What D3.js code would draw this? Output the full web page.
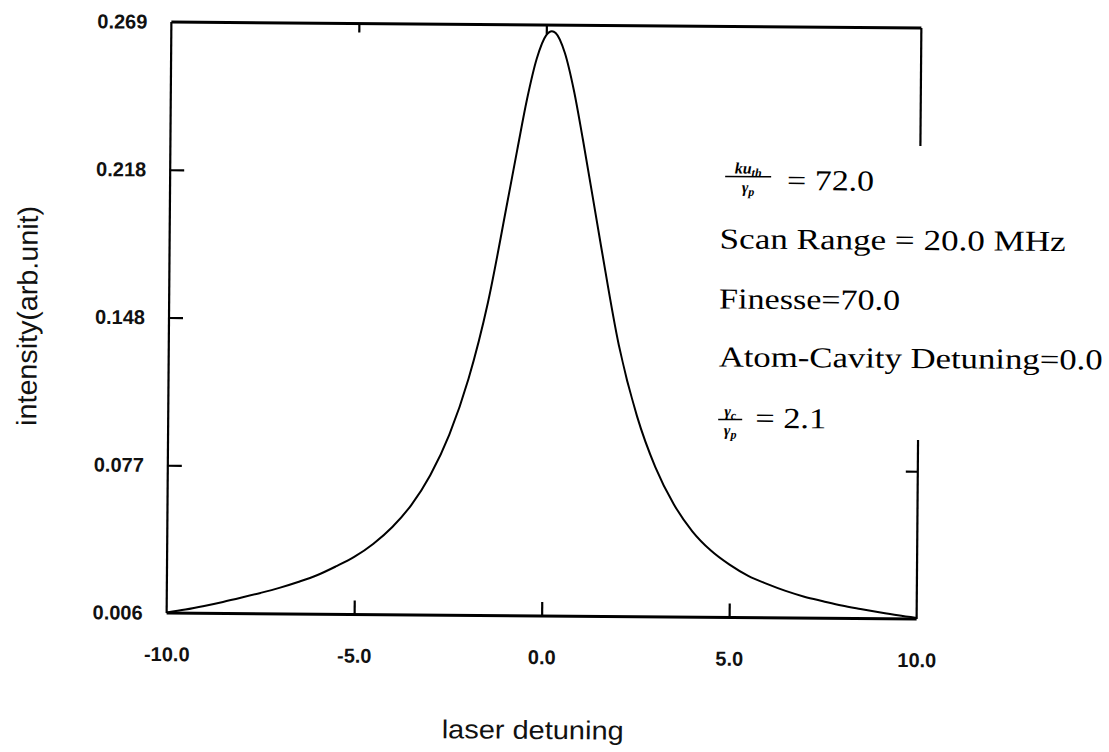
<!DOCTYPE html>
<html>
<head>
<meta charset="utf-8">
<script src="https://cdn.jsdelivr.net/npm/d3@7"></script>
<style>
  body { margin: 0; background: #fff; }
  .tick text { font-family: "Liberation Sans", Arial, sans-serif; font-size: 20px; font-weight: bold; fill: #111; }
  .tick line { stroke: #000; stroke-width: 2.2; }
  .note { font-family: "Liberation Serif", "DejaVu Serif", serif; fill: #000; }
</style>
</head>
<body>
<div class="chart"></div>
<script>

// values
const detuning = [-10, -9.5, -9, -8.5, -8, -7.5, -7, -6.5, -6, -5.5, -5, -4.5, -4, -3.5, -3, -2.5, -2, -1.5, -1, -0.75, -0.5, -0.25, 0, 0.15, 0.25, 0.5, 0.75, 1, 1.5, 2, 2.5, 3, 3.5, 4, 4.5, 5, 5.5, 6, 6.5, 7, 7.5, 8, 8.5, 9, 9.5, 10]
const intensity = [0.0062, 0.0077, 0.0095, 0.0115, 0.0137, 0.0160, 0.0185, 0.0214, 0.0247, 0.0290, 0.0338, 0.0401, 0.0482, 0.0588, 0.0732, 0.0928, 0.1197, 0.1562, 0.2041, 0.2258, 0.2433, 0.2573, 0.2655, 0.2669, 0.2663, 0.2594, 0.2464, 0.2295, 0.1840, 0.1365, 0.1024, 0.0780, 0.0602, 0.0473, 0.0381, 0.0314, 0.0261, 0.0223, 0.0190, 0.0163, 0.0142, 0.0122, 0.0106, 0.0091, 0.0077, 0.0065]

const xTicks = [-10, -5, 0, 5, 10]
const xTickLabels = ["-10.0", "-5.0", "0.0", "5.0", "10.0"]
const yTicks = [0.006, 0.077, 0.148, 0.218, 0.269]
const yTickLabels = ["0.006", "0.077", "0.148", "0.218", "0.269"]

const data = detuning.map((d, i) => ({ x: d, y: intensity[i] }))

const margin = ({ top: 25, right: 190, bottom: 136, left: 169 })
const width = 1109 - margin.left - margin.right,
    height = 752 - margin.top - margin.bottom;

let root = d3.select(".chart").append("svg")
    .attr("width", 1109)
    .attr("height", 752)
    .append("g")
    .attr("transform", "rotate(0.46, 544, 320)");   // the scan is slightly tilted

let svg = root.append("g")
    .attr("transform", "translate(" + margin.left + "," + margin.top + ")");

let xScale = d3.scaleLinear()
    .domain([-10, 10])
    .range([0, width])

// tick labels are evenly spaced on the page but not in value
let yScale = d3.scaleLinear()
    .domain(yTicks)
    .range([height, height * 0.75, height * 0.5, height * 0.25, 0])

let xAxis = d3.axisBottom(xScale)
    .tickValues(xTicks)
    .tickFormat((d, i) => xTickLabels[i])
    .tickSizeInner(-14)
    .tickSizeOuter(0)
    .tickPadding(34)

let yAxis = d3.axisLeft(yScale)
    .tickValues(yTicks)
    .tickFormat((d, i) => yTickLabels[i])
    .tickSizeInner(-14)
    .tickSizeOuter(0)
    .tickPadding(24)

let topAxis = d3.axisTop(xScale)
    .tickValues([-5, 0])
    .tickFormat("")
    .tickSizeInner(-9)
    .tickSizeOuter(0)

let rightAxis = d3.axisRight(yScale)
    .tickValues([0.077])
    .tickFormat("")
    .tickSizeInner(-12)
    .tickSizeOuter(0)

svg.append("g")
    .attr("class", "axis x-axis")
    .attr("transform", `translate(0, ${height})`)
    .call(xAxis)
    .call(g => g.select(".domain").remove())
    .selectAll(".tick")
    .filter(d => d === -10 || d === 10)
    .select("line").remove();

svg.append("g")
    .attr("class", "axis y-axis")
    .call(yAxis)
    .call(g => g.select(".domain").remove())
    .selectAll(".tick")
    .filter(d => d === 0.006 || d === 0.269)
    .select("line").remove();

svg.append("g")
    .attr("class", "axis top-axis")
    .call(topAxis)
    .call(g => g.select(".domain").remove())

svg.append("g")
    .attr("class", "axis right-axis")
    .attr("transform", `translate(${width}, 0)`)
    .call(rightAxis)
    .call(g => g.select(".domain").remove())

// frame, the right edge is broken where the notes sit
const frame = [
    [[0, 0], [width, 0], 3],
    [[0, height], [width, height], 3],
    [[0, 0], [0, height], 2.2],
    [[width, 0], [width, 118], 2.2],
    [[width, 412], [width, height], 2.2]
]
svg.selectAll(".frame")
    .data(frame)
    .enter()
    .append("line")
    .attr("class", "frame")
    .attr("x1", d => d[0][0])
    .attr("y1", d => d[0][1])
    .attr("x2", d => d[1][0])
    .attr("y2", d => d[1][1])
    .attr("stroke", "#000")
    .attr("stroke-width", d => d[2])

let line = d3.line()
    .x(d => xScale(d.x))
    .y(d => yScale(d.y))
    .curve(d3.curveMonotoneX)

svg.append("path")
    .datum(data)
    .attr("fill", "none")
    .attr("stroke", "#000")
    .attr("stroke-width", 2)
    .attr("d", line)

// axis titles
root.append("text")
    .attr("x", 536)
    .attr("y", 739)
    .attr("text-anchor", "middle")
    .attr("textLength", 182)
    .attr("lengthAdjust", "spacingAndGlyphs")
    .style("font-family", "'Liberation Sans', Arial, sans-serif")
    .style("font-size", "26px")
    .style("fill", "#111")
    .text("laser detuning")

root.append("text")
    .attr("transform", "translate(37, 320) rotate(-90)")
    .attr("text-anchor", "middle")
    .attr("textLength", 220)
    .attr("lengthAdjust", "spacingAndGlyphs")
    .style("font-family", "'Liberation Sans', Arial, sans-serif")
    .style("font-size", "28px")
    .style("fill", "#111")
    .text("intensity(arb.unit)")

// parameter notes
const notes = root.append("g").attr("class", "note")

function fraction(cx, yBar, num, numSub, w) {
    let t = notes.append("text")
        .attr("x", cx).attr("y", yBar - 3)
        .attr("text-anchor", "middle")
        .style("font-size", "16px").style("font-style", "italic").style("font-weight", "bold")
    t.append("tspan").text(num)
    if (numSub) t.append("tspan").attr("dy", 3).style("font-size", "12px").text(numSub)
    notes.append("line")
        .attr("x1", cx - w / 2).attr("x2", cx + w / 2)
        .attr("y1", yBar).attr("y2", yBar)
        .attr("stroke", "#000").attr("stroke-width", 1.5)
    let b = notes.append("text")
        .attr("x", cx).attr("y", yBar + 16)
        .attr("text-anchor", "middle")
        .style("font-size", "16px").style("font-style", "italic").style("font-weight", "bold")
    b.append("tspan").text("γ")
    b.append("tspan").attr("dy", 3).style("font-size", "12px").text("p")
}

fraction(747, 175, "ku", "th", 46)
fraction(731, 418, "γ", "c", 24)

const noteLines = [
    ["= 72.0", 786, 188, 87],
    ["Scan Range = 20.0 MHz", 719, 247, 346],
    ["Finesse=70.0", 719, 307, 181],
    ["Atom-Cavity Detuning=0.0", 719, 365, 384],
    ["= 2.1", 756, 426, 71]
]
notes.selectAll(".noteline")
    .data(noteLines)
    .enter()
    .append("text")
    .attr("class", "noteline")
    .attr("x", d => d[1])
    .attr("y", d => d[2])
    .attr("textLength", d => d[3])
    .attr("lengthAdjust", "spacingAndGlyphs")
    .style("font-size", "29px")
    .text(d => d[0])

</script>
</body>
</html>
